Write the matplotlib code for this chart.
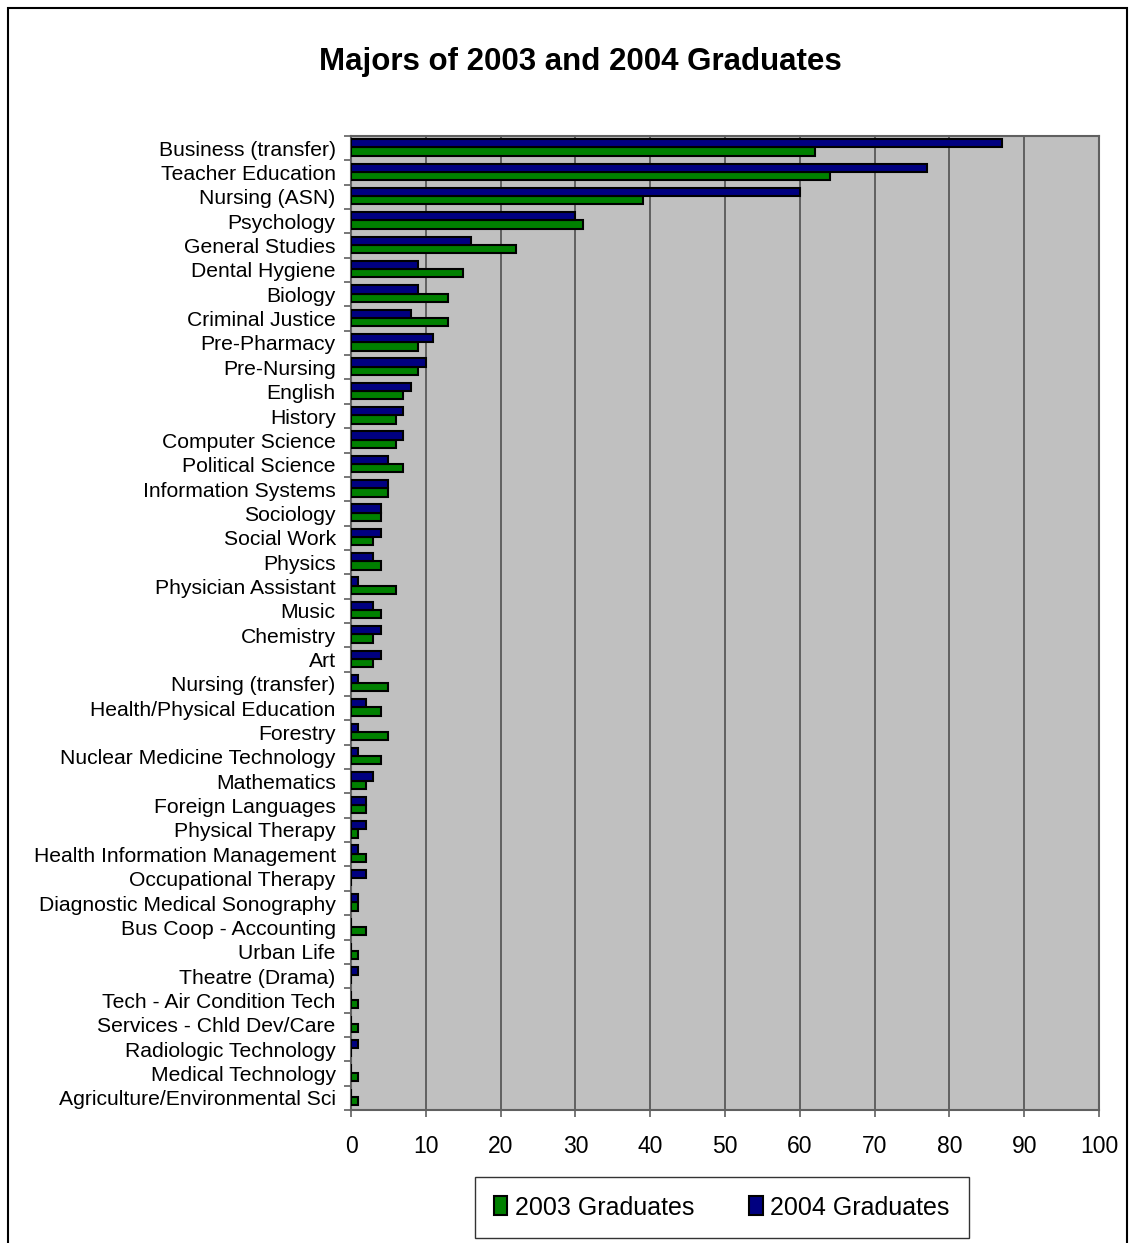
import matplotlib
matplotlib.use("Agg")
import matplotlib.pyplot as plt
import numpy as np
from matplotlib.patches import Rectangle

plt.rcParams['font.family'] = ['Liberation Sans', 'DejaVu Sans']

majors = ["Business (transfer)", "Teacher Education", "Nursing (ASN)", "Psychology",
          "General Studies", "Dental Hygiene", "Biology", "Criminal Justice",
          "Pre-Pharmacy", "Pre-Nursing", "English", "History", "Computer Science",
          "Political Science", "Information Systems", "Sociology", "Social Work",
          "Physics", "Physician Assistant", "Music", "Chemistry", "Art",
          "Nursing (transfer)", "Health/Physical Education", "Forestry",
          "Nuclear Medicine Technology", "Mathematics", "Foreign Languages",
          "Physical Therapy", "Health Information Management", "Occupational Therapy",
          "Diagnostic Medical Sonography", "Bus Coop - Accounting", "Urban Life",
          "Theatre (Drama)", "Tech - Air Condition Tech", "Services - Chld Dev/Care",
          "Radiologic Technology", "Medical Technology", "Agriculture/Environmental Sci"]
grads_2003 = [62, 64, 39, 31, 22, 15, 13, 13, 9, 9, 7, 6, 6, 7, 5, 4, 3, 4, 6, 4,
              3, 3, 5, 4, 5, 4, 2, 2, 1, 2, 0, 1, 2, 1, 0, 1, 1, 0, 1, 1]
grads_2004 = [87, 77, 60, 30, 16, 9, 9, 8, 11, 10, 8, 7, 7, 5, 5, 4, 4, 3, 1, 3,
              4, 4, 1, 2, 1, 1, 3, 2, 2, 1, 2, 1, 0, 0, 1, 0, 0, 1, 0, 0]

fig = plt.figure(figsize=(11.33, 12.43), dpi=100)
ax = fig.add_axes([0.3098, 0.107, 0.6603, 0.7836])

y = np.arange(len(majors))
h = 0.34
ax.barh(y + h / 2 - 0.03, grads_2003, height=h, color="#008000", edgecolor="black",
        linewidth=1.5, label="2003 Graduates", zorder=3)
ax.barh(y - h / 2 - 0.03, grads_2004, height=h, color="#000080", edgecolor="black",
        linewidth=1.5, label="2004 Graduates", zorder=3)

ax.set_facecolor("#C0C0C0")
ax.set_xlim(0, 100)
ax.set_ylim(len(majors) - 0.5, -0.5)
ax.set_xticks(np.arange(0, 101, 10))
ax.xaxis.grid(True, color="#505050", linewidth=1.2, zorder=1)
ax.set_yticks(y)
ax.set_yticklabels(majors, fontsize=15.2)
ax.set_yticks(np.arange(-0.5, len(majors), 1), minor=True)
ax.tick_params(axis="y", which="major", length=0, pad=11)
ax.tick_params(axis="y", which="minor", length=5, width=1.2, color="#606060")
ax.tick_params(axis="x", length=5, width=1.2, color="#606060", labelsize=16.5, pad=13)
for s in ax.spines.values():
    s.set_color("#606060")
    s.set_linewidth(1.5)

fig.text(0.512, 0.950, "Majors of 2003 and 2004 Graduates", ha="center", va="center",
         fontsize=22.5, fontweight="bold")

handles, labels = ax.get_legend_handles_labels()
leg = fig.legend(handles, labels, loc="center", bbox_to_anchor=(0.637, 0.0285),
                 ncol=2, fontsize=18, frameon=True, fancybox=False, edgecolor="black",
                 handlelength=0.55, handleheight=0.8, handletextpad=0.3,
                 columnspacing=2.2, borderpad=0.75)
leg.get_frame().set_linewidth(1.0)

fig.patches.append(Rectangle((8 / 1133, -0.01), 1119 / 1133, 1.0 - 8 / 1243 + 0.01,
                             transform=fig.transFigure, fill=False,
                             edgecolor="black", linewidth=1.5))

fig.savefig("out.png", dpi=100)
